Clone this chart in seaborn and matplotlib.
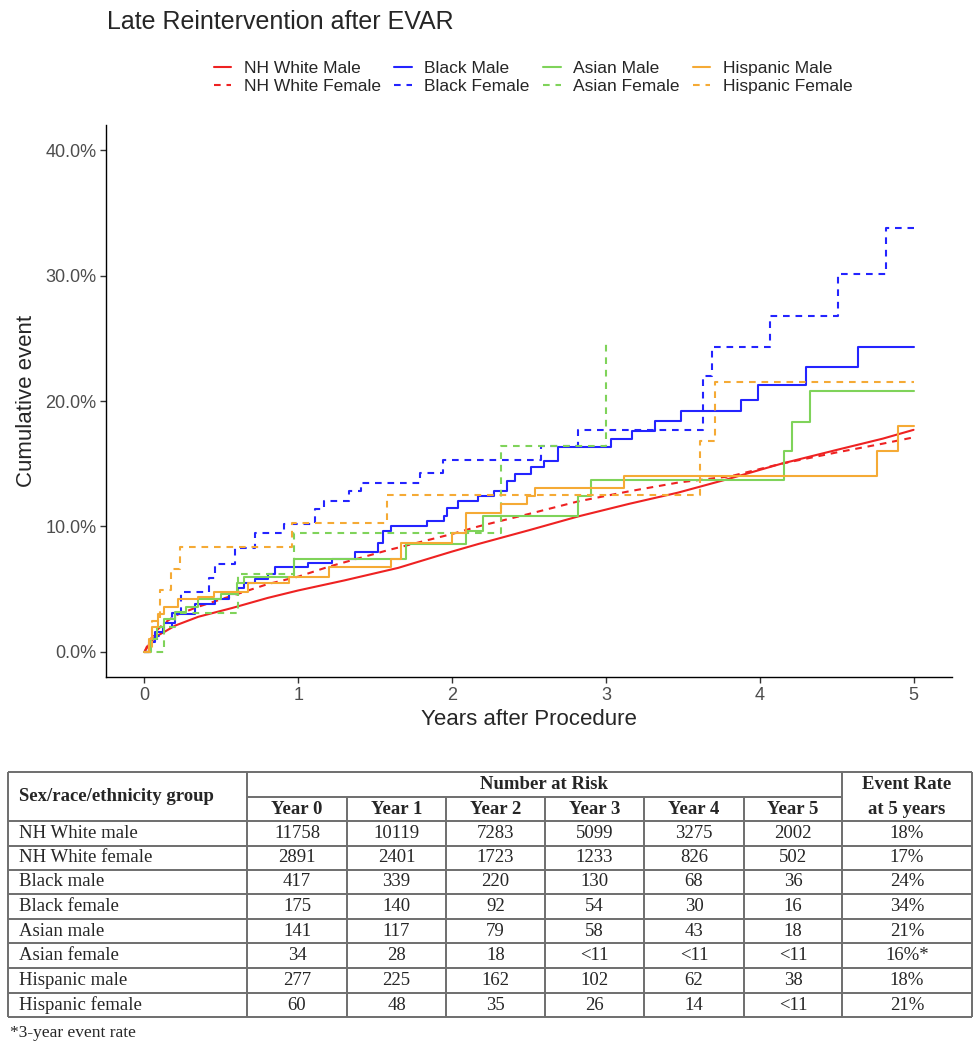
import matplotlib
matplotlib.use('Agg')
import matplotlib.pyplot as plt
from matplotlib.lines import Line2D
from matplotlib.ticker import FuncFormatter
import pandas as pd
import seaborn as sns

# Cumulative event curves (years after procedure, cumulative event in %)
wm_t = [0, 0.03, 0.07, 0.13, 0.2, 0.35, 0.57, 0.8, 1.0, 1.3, 1.65, 2.0, 2.17, 2.5, 2.82, 3.15, 3.47, 3.8, 4.14, 4.5, 4.8, 5.0]
wm_y = [0, 0.6, 1.2, 1.6, 2.1, 2.8, 3.5, 4.3, 4.9, 5.7, 6.7, 8.0, 8.6, 9.7, 10.8, 11.8, 12.7, 13.8, 15.0, 16.1, 17.0, 17.7]

wf_t = [0, 0.03, 0.07, 0.13, 0.2, 0.35, 0.55, 0.8, 1.0, 1.2, 1.58, 2.0, 2.17, 2.5, 2.82, 3.15, 3.47, 3.81, 4.14, 4.5, 4.8, 5.0]
wf_y = [0, 0.8, 1.6, 2.3, 2.9, 3.6, 4.4, 5.4, 6.0, 6.8, 8.1, 9.4, 10.0, 11.0, 12.0, 12.8, 13.5, 14.0, 15.0, 15.9, 16.6, 17.1]

bm_t = [0, 0.03, 0.07, 0.13, 0.2, 0.33, 0.46, 0.55, 0.61, 0.65, 0.72, 0.80, 0.85, 1.06, 1.22, 1.37, 1.52, 1.55,
        1.60, 1.84, 1.95, 1.97, 2.04, 2.17, 2.27, 2.36, 2.41, 2.51, 2.60, 2.69, 3.03, 3.17, 3.32, 3.49, 3.88,
        3.99, 4.30, 4.64, 5.0]
bm_y = [0, 0.8, 1.6, 2.3, 3.0, 3.8, 4.2, 4.6, 5.1, 5.5, 5.8, 6.2, 6.8, 7.1, 7.4, 8.0, 8.7, 9.6,
        10.0, 10.4, 10.8, 11.5, 12.0, 12.4, 12.8, 13.6, 14.2, 14.7, 15.2, 16.3, 17.0, 17.6, 18.4, 19.2, 20.1,
        21.3, 22.7, 24.3, 24.3]

bf_t = [0, 0.04, 0.08, 0.12, 0.18, 0.24, 0.42, 0.46, 0.59, 0.72, 0.91, 1.11, 1.17, 1.33, 1.41, 1.79, 1.94,
        2.58, 2.82, 3.63, 3.69, 4.07, 4.51, 4.82, 5.0]
bf_y = [0, 0.8, 1.3, 2.0, 3.1, 4.8, 5.9, 7.0, 8.3, 9.5, 10.2, 11.4, 12.0, 12.8, 13.5, 14.3, 15.3,
        16.4, 17.7, 22.0, 24.3, 26.8, 30.1, 33.8, 33.8]

am_t = [0, 0.04, 0.08, 0.13, 0.2, 0.27, 0.35, 0.5, 0.6, 0.65, 0.97, 1.70, 2.09, 2.2, 2.82, 2.90, 4.16, 4.21, 4.33, 5.0]
am_y = [0, 1.0, 2.0, 2.6, 3.2, 3.6, 4.2, 4.6, 5.5, 6.0, 7.4, 8.6, 9.6, 10.8, 12.4, 13.7, 16.0, 18.3, 20.8, 20.8]

af_t = [0, 0.13, 0.2, 0.61, 0.97, 2.32, 3.0]
af_y = [0, 2.0, 3.1, 6.2, 9.5, 16.4, 24.7]

hm_t = [0, 0.03, 0.05, 0.09, 0.13, 0.22, 0.35, 0.45, 0.67, 0.94, 1.2, 1.6, 1.67, 2.0, 2.09, 2.32, 2.49, 2.54,
        3.12, 4.76, 4.90, 5.0]
hm_y = [0, 1.0, 2.0, 3.0, 3.6, 4.2, 4.4, 4.8, 5.5, 6.0, 6.8, 7.4, 8.7, 9.5, 11.1, 11.8, 12.4, 13.1,
        14.0, 16.0, 18.0, 18.0]

hf_t = [0, 0.05, 0.10, 0.17, 0.23, 0.96, 1.58, 3.61, 3.71, 5.0]
hf_y = [0, 2.5, 4.9, 6.6, 8.4, 10.3, 12.5, 16.8, 21.5, 21.5]

# Number-at-risk table
table_groups = ['NH White male', 'NH White female', 'Black male', 'Black female',
                'Asian male', 'Asian female', 'Hispanic male', 'Hispanic female']
year_labels = ['Year 0', 'Year 1', 'Year 2', 'Year 3', 'Year 4', 'Year 5']
risk_y0 = ['11758', '2891', '417', '175', '141', '34', '277', '60']
risk_y1 = ['10119', '2401', '339', '140', '117', '28', '225', '48']
risk_y2 = ['7283', '1723', '220', '92', '79', '18', '162', '35']
risk_y3 = ['5099', '1233', '130', '54', '58', '<11', '102', '26']
risk_y4 = ['3275', '826', '68', '30', '43', '<11', '62', '14']
risk_y5 = ['2002', '502', '36', '16', '18', '<11', '38', '<11']
event_rate = ['18%', '17%', '24%', '34%', '21%', '16%*', '18%', '21%']

RED, BLUE, GREEN, ORANGE = '#EE2222', '#2424FF', '#7FD35A', '#F5AA35'
series = [
    ('NH White Male', wm_t, wm_y, RED, False, False),
    ('NH White Female', wf_t, wf_y, RED, True, False),
    ('Black Male', bm_t, bm_y, BLUE, False, True),
    ('Black Female', bf_t, bf_y, BLUE, True, True),
    ('Asian Male', am_t, am_y, GREEN, False, True),
    ('Asian Female', af_t, af_y, GREEN, True, True),
    ('Hispanic Male', hm_t, hm_y, ORANGE, False, True),
    ('Hispanic Female', hf_t, hf_y, ORANGE, True, True),
]
DASH = (3.2, 2.8)
LW = 1.5

sns.set_style('white')
plt.rcParams['font.family'] = ['Liberation Sans', 'DejaVu Sans']

W, H = 976, 1050
fig = plt.figure(figsize=(W / 100, H / 100), dpi=100)
ax = fig.add_axes([106 / W, 1 - 677 / H, (952 - 106) / W, (677 - 125) / H])

handles = []
for name, t, y, col, dashed, step in series:
    df = pd.DataFrame({'years': t, 'event': y})
    sns.lineplot(data=df, x='years', y='event', ax=ax, color=col, lw=LW,
                 estimator=None, sort=False, legend=False,
                 drawstyle='steps-post' if step else 'default')
    if dashed:
        ax.lines[-1].set_dashes(DASH)
    h = Line2D([], [], color=col, lw=LW)
    if dashed:
        h.set_dashes(DASH)
    handles.append(h)

ax.set_xlim(-0.25, 5.25)
ax.set_ylim(-2, 42)
ax.set_xticks([0, 1, 2, 3, 4, 5])
ax.set_yticks([0, 10, 20, 30, 40])
ax.yaxis.set_major_formatter(FuncFormatter(lambda v, p: f'{v:.1f}%'))
for s in ['top', 'right']:
    ax.spines[s].set_visible(False)
for s in ['left', 'bottom']:
    ax.spines[s].set_color('black')
    ax.spines[s].set_linewidth(1.0)
ax.tick_params(axis='both', length=4, width=1, color='#333333', labelcolor='#4D4D4D',
               labelsize=13, pad=3, bottom=True, left=True)
ax.set_xlabel('Years after Procedure', fontsize=16, labelpad=4)
ax.set_ylabel('Cumulative event', fontsize=16, labelpad=6)

fig.text(107 / W, 1 - 22 / H, 'Late Reintervention after EVAR', fontsize=18, va='center', ha='left')
fig.legend(handles, [s[0] for s in series], ncol=4, loc='upper left',
           bbox_to_anchor=(214 / W, 1 - 61 / H), frameon=False, fontsize=12.5,
           handlelength=1.0, handletextpad=0.7, columnspacing=0.8, labelspacing=0.15,
           borderpad=0, borderaxespad=0)

# table drawn in pixel coordinates
tab = fig.add_axes([0, 0, 1, 1])
tab.set_xlim(0, W)
tab.set_ylim(H, 0)
tab.axis('off')
tab.patch.set_alpha(0)

xs = [8, 247, 347, 446, 545, 644, 744, 842, 972]
ys = [772, 797, 821, 846, 870, 894, 919, 943, 968, 993, 1017]
lc, lw_t = '#6E6E6E', 1.4
tab.hlines(ys[0], xs[0], xs[-1], color=lc, lw=lw_t)
tab.hlines(ys[1], xs[1], xs[7], color=lc, lw=lw_t)
tab.hlines(ys[2:], xs[0], xs[-1], color=lc, lw=lw_t)
tab.vlines([xs[0], xs[1], xs[7], xs[8]], ys[0], ys[-1], color=lc, lw=lw_t)
tab.vlines(xs[2:7], ys[1], ys[-1], color=lc, lw=lw_t)

serif = 'Liberation Serif'
fs = 13.5
tab.text(19, (ys[0] + ys[2]) / 2, 'Sex/race/ethnicity group', family=serif, fontsize=fs,
         weight='bold', ha='left', va='center')
tab.text((xs[1] + xs[7]) / 2, (ys[0] + ys[1]) / 2, 'Number at Risk', family=serif, fontsize=fs,
         weight='bold', ha='center', va='center')
tab.text((xs[7] + xs[8]) / 2, (ys[0] + ys[1]) / 2, 'Event Rate', family=serif, fontsize=fs,
         weight='bold', ha='center', va='center')
tab.text((xs[7] + xs[8]) / 2, (ys[1] + ys[2]) / 2, 'at 5 years', family=serif, fontsize=fs,
         weight='bold', ha='center', va='center')
for j, lab in enumerate(year_labels):
    tab.text((xs[j + 1] + xs[j + 2]) / 2, (ys[1] + ys[2]) / 2, lab, family=serif, fontsize=fs,
             weight='bold', ha='center', va='center')

cols = [risk_y0, risk_y1, risk_y2, risk_y3, risk_y4, risk_y5, event_rate]
for i, g in enumerate(table_groups):
    yc = (ys[i + 2] + ys[i + 3]) / 2
    tab.text(19, yc, g, family=serif, fontsize=fs, ha='left', va='center')
    for j, col in enumerate(cols):
        tab.text((xs[j + 1] + xs[j + 2]) / 2, yc, col[i], family=serif, fontsize=fs,
                 ha='center', va='center')
tab.text(10, 1033, '*3-year event rate', family=serif, fontsize=12.5, ha='left', va='center')

fig.savefig('out.png', dpi=100)
